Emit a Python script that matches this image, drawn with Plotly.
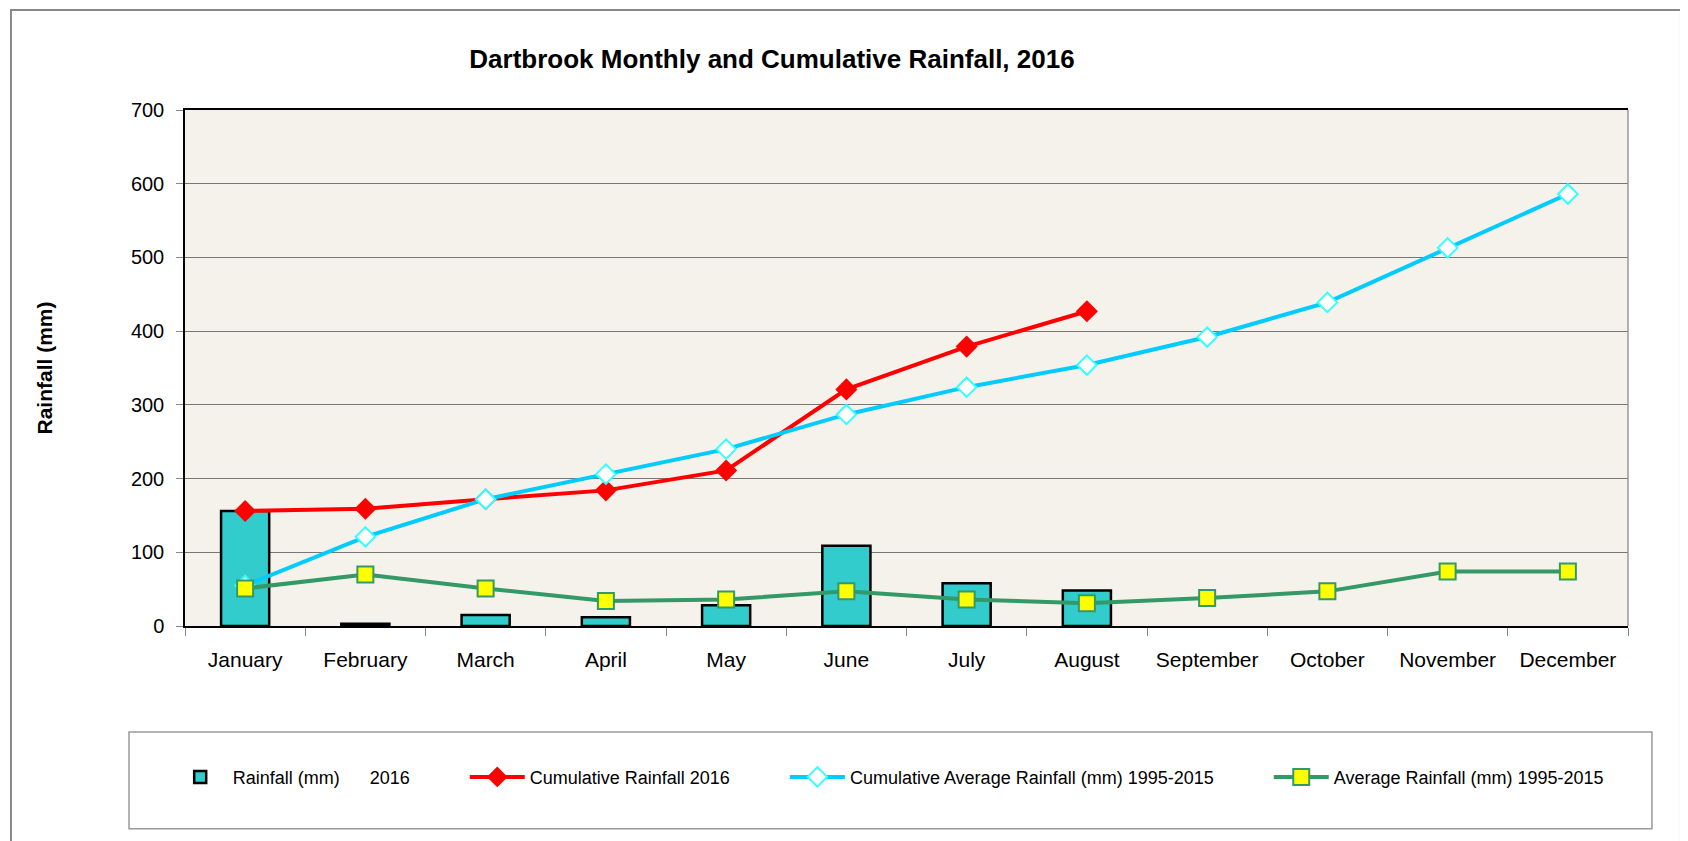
import plotly.graph_objects as go

months = ['January', 'February', 'March', 'April', 'May', 'June', 'July',
          'August', 'September', 'October', 'November', 'December']
rain_2016 = [156, 3, 15, 12, 28, 109, 58, 48]
cum_2016 = [156, 159, 172, 184, 211, 321, 379, 427]
cum_avg = [55, 121, 172, 206, 240, 287, 324, 354, 392, 439, 513, 586]
avg_rain = [51, 70, 51, 34, 36, 47, 36, 31, 38, 47, 74, 74]

font = 'Liberation Sans, Arial, sans-serif'
nb = '\u00a0'

fig = go.Figure()
fig.add_trace(go.Bar(
    x=months[:len(rain_2016)], y=rain_2016,
    name='Rainfall (mm)' + nb * 6 + '2016' + nb * 10,
    marker=dict(color='#33CCCC', line=dict(color='black', width=2.5)),
    width=0.4,
))
fig.add_trace(go.Scatter(
    x=months[:len(cum_2016)], y=cum_2016, mode='lines+markers',
    name='Cumulative Rainfall 2016' + nb * 10,
    line=dict(color='#FF0000', width=4),
    marker=dict(symbol='diamond', size=17, color='#FF0000'),
))
fig.add_trace(go.Scatter(
    x=months, y=cum_avg, mode='lines+markers',
    name='Cumulative Average Rainfall (mm) 1995-2015' + nb * 10,
    line=dict(color='#00CCFF', width=4),
    marker=dict(symbol='diamond', size=15, color='white',
                line=dict(color='#33FFFF', width=2)),
))
fig.add_trace(go.Scatter(
    x=months, y=avg_rain, mode='lines+markers',
    name='Average Rainfall (mm) 1995-2015',
    line=dict(color='#339966', width=4),
    marker=dict(symbol='square', size=16, color='#FFFF00',
                line=dict(color='#339966', width=2)),
))

fig.update_layout(
    width=1688, height=841,
    margin=dict(l=177, r=68, t=102, b=223),
    paper_bgcolor='white', plot_bgcolor='#F5F2EB',
    font=dict(family=font, size=18, color='black'),
    title=dict(text='<b>Dartbrook Monthly and Cumulative Rainfall, 2016</b>',
               x=0.4526, xanchor='center', y=0.939, yanchor='middle',
               font=dict(size=26)),
    bargap=0.6,
    legend=dict(orientation='h', x=-0.012, xanchor='left', y=-0.293, yanchor='middle',
                font=dict(size=18), bgcolor='rgba(0,0,0,0)', itemwidth=55),
    shapes=[
        dict(type='rect', xref='paper', yref='paper', x0=-0.0388, x1=1.0166,
             y0=-0.393, y1=-0.2054, line=dict(color='#999999', width=1.5)),
        dict(type='rect', xref='paper', yref='paper', x0=-0.1206, x1=1.0367,
             y0=-0.5, y1=1.194, line=dict(color='#888888', width=2)),
        dict(type='line', xref='paper', yref='paper', x0=1, x1=1, y0=0, y1=1,
             line=dict(color='#999999', width=1.5)),
    ],
)
fig.update_xaxes(
    range=[-0.5, 11.5],
    showline=True, linecolor='black', linewidth=1.5, mirror=True,
    ticks='outside', tickson='boundaries', ticklen=8, tickcolor='#888888',
    showgrid=False, tickfont=dict(size=21), ticklabelstandoff=14,
)
fig.update_yaxes(
    range=[0, 700], dtick=100, showline=True, linecolor='black', linewidth=1.5,
    ticks='outside', ticklen=7, tickcolor='#888888',
    showgrid=True, gridcolor='#777777', gridwidth=1, zeroline=False,
    tickfont=dict(size=20), ticklabelstandoff=8,
    title=dict(text='<b>Rainfall (mm)</b>', font=dict(size=21), standoff=73),
)

fig.write_html('out.html')
